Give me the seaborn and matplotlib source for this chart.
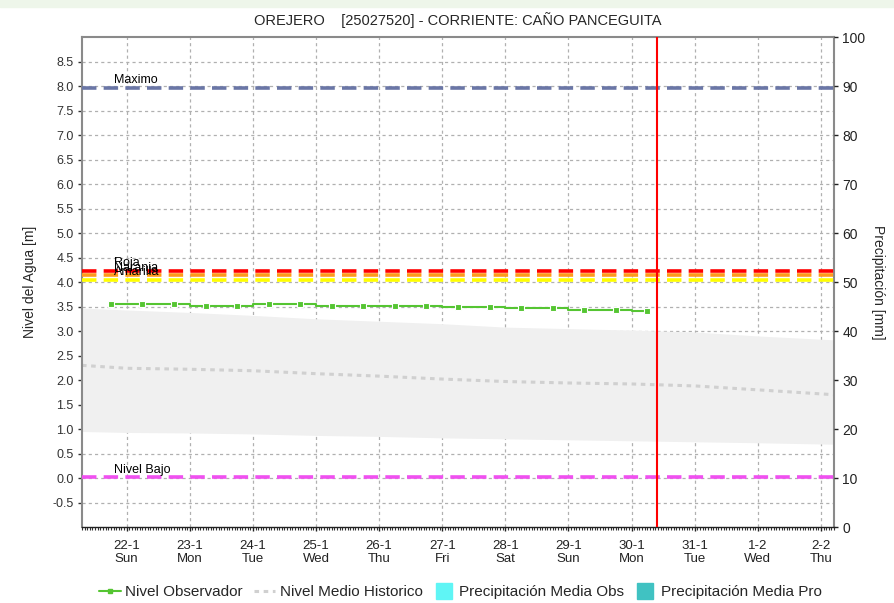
import numpy as np
import pandas as pd
import matplotlib
matplotlib.use("Agg")
import matplotlib.pyplot as plt
import matplotlib.dates as mdates
from matplotlib.lines import Line2D
from matplotlib.patches import Rectangle
import seaborn as sns

# Observed water level (every 12 h)
obs_times = pd.date_range("2023-01-21 18:00", "2023-01-30 06:00", freq="12h")
obs_level = [3.55, 3.55, 3.55, 3.52, 3.52, 3.55, 3.55, 3.52, 3.52,
             3.52, 3.52, 3.50, 3.50, 3.47, 3.47, 3.43, 3.43, 3.41]

# Historical mean level and band (min / max)
hist_times = pd.to_datetime([
    "2023-01-21 07:00", "2023-01-22 00:00", "2023-01-23 00:00", "2023-01-24 00:00",
    "2023-01-25 00:00", "2023-01-26 00:00", "2023-01-27 00:00", "2023-01-28 00:00",
    "2023-01-29 00:00", "2023-01-30 00:00", "2023-01-31 00:00", "2023-02-01 00:00",
    "2023-02-02 05:00"])
hist_mean = [2.30, 2.24, 2.22, 2.19, 2.13, 2.08, 2.02, 1.97, 1.94, 1.92, 1.88, 1.80, 1.70]
hist_upper = [3.47, 3.43, 3.38, 3.32, 3.25, 3.20, 3.15, 3.08, 3.05, 3.02, 2.98, 2.90, 2.82]
hist_lower = [0.95, 0.93, 0.92, 0.90, 0.87, 0.85, 0.82, 0.80, 0.78, 0.76, 0.74, 0.72, 0.69]

# Threshold levels
thr_names = ["Maximo", "Roja", "Naranja", "Amarilla", "Nivel Bajo"]
thr_values = [7.97, 4.23, 4.14, 4.05, 0.02]
thr_colors = ["#6A76A6", "#FF0000", "#FF9A1A", "#FFFF00", "#F050F0"]

now_time = pd.Timestamp("2023-01-30 09:40")
x_start = pd.Timestamp("2023-01-21 07:00")
x_end = pd.Timestamp("2023-02-02 05:00")

title = "OREJERO    [25027520] - CORRIENTE: CAÑO PANCEGUITA"

sns.set_style("white")
plt.rcParams['font.family'] = ['Liberation Sans', 'DejaVu Sans']

fig = plt.figure(figsize=(8.94, 6.03), dpi=100)
fig.add_artist(Rectangle((0, 0.988), 1, 0.012, transform=fig.transFigure,
                         color="#EEF6EA", zorder=0))
ax = fig.add_axes([0.0917, 0.126, 0.8413, 0.8125])

# historical band
ax.fill_between(hist_times, hist_lower, hist_upper, color="#F0F0F0", lw=0, zorder=1)

hist_df = pd.DataFrame({"t": hist_times, "v": hist_mean})
sns.lineplot(data=hist_df, x="t", y="v", ax=ax, color="#D0D0D0", lw=2.2,
             linestyle=(0, (1.5, 1.5)), zorder=2)

# thresholds
for name, val, col in zip(thr_names, thr_values, thr_colors):
    ax.axhline(val, color=col, lw=2.6, linestyle=(0, (4, 2)), zorder=3)
    ax.text(pd.Timestamp("2023-01-21 19:00"), val + 0.03, name, fontsize=9,
            color="black", va="bottom", ha="left", zorder=4)

obs_df = pd.DataFrame({"t": obs_times, "v": obs_level})
sns.lineplot(data=obs_df, x="t", y="v", ax=ax, color="#55C532", lw=1.5,
             marker="s", markersize=4, markeredgewidth=0.8, drawstyle="steps-mid", zorder=5)

ax.axvline(now_time, color="#FF0000", lw=1.5, zorder=6)

ax.set_xlim(x_start, x_end)
ax.set_ylim(-1, 9)
ax.set_yticks(np.arange(-0.5, 8.51, 0.5))
ax.yaxis.set_major_formatter(plt.FormatStrFormatter("%.1f"))
ax.xaxis.set_major_locator(mdates.DayLocator())
ax.xaxis.set_minor_locator(mdates.HourLocator())
ax.xaxis.set_major_formatter(plt.FuncFormatter(
    lambda v, p: "{}-{}\n{}".format(mdates.num2date(v).day, mdates.num2date(v).month,
                                    mdates.num2date(v).strftime("%a"))))
ax.grid(True, color="#B0B0B0", linestyle=(0, (2.5, 2.5)), lw=0.9)
ax.tick_params(axis="y", left=True, length=3, width=1, colors="#333333", labelsize=9, pad=3)
ax.tick_params(axis="x", which="major", bottom=True, length=3, width=1, labelsize=9.5, pad=6,
               colors="#222222")
ax.tick_params(axis="x", which="minor", bottom=True, length=2, width=0.8, color="#333333")
ax.set_xlabel("")
ax.set_ylabel("Nivel del Agua [m]", fontsize=10, labelpad=11)

for s in ["left", "right", "top"]:
    ax.spines[s].set_color("#8A8A8A")
    ax.spines[s].set_linewidth(1.5)
ax.spines["bottom"].set_color("#222222")
ax.spines["bottom"].set_linewidth(1.0)

ax2 = ax.twinx()
ax2.set_ylim(0, 100)
ax2.set_yticks(np.arange(0, 101, 10))
ax2.tick_params(axis="y", right=True, length=3, width=1, colors="#222222", labelsize=10, pad=3)
ax2.set_ylabel("Precipitación [mm]", fontsize=10, rotation=-90, labelpad=14)
for s in ["left", "right", "top", "bottom"]:
    ax2.spines[s].set_visible(False)
ax2.grid(False)

ax.set_title(title, fontsize=10.5, pad=9)

handles = [
    Line2D([], [], color="#55C532", lw=1.5, marker="s", markersize=3.5),
    Line2D([], [], color="#D0D0D0", lw=2.2, linestyle=(0, (1.5, 1.5))),
    Line2D([], [], color="#5FF5F5", lw=0, marker="s", markersize=11),
    Line2D([], [], color="#40C2C2", lw=0, marker="s", markersize=11),
]
labels = ["Nivel Observador", "Nivel Medio Historico",
          "Precipitación Media Obs", "Precipitación Media Pro"]
fig.legend(handles, labels, loc="lower center", bbox_to_anchor=(0.515, -0.016), ncol=4,
           frameon=False, fontsize=11, handlelength=1.4, handletextpad=0.3,
           columnspacing=0.7)

fig.savefig("out.png", dpi=100)
